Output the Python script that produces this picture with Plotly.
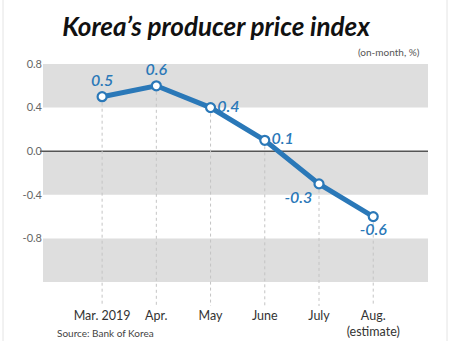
import plotly.graph_objects as go

# ---- data ----
months = ["Mar. 2019", "Apr.", "May", "June", "July", "Aug.<br>(estimate)"]
ppi = [0.5, 0.6, 0.4, 0.1, -0.3, -0.6]
y_ticks = [0.8, 0.4, 0.0, -0.4, -0.8]
y_tick_labels = ["0.8", "0.4", "0.0", "-0.4", "-0.8"]
label_pos = ["top center", "top center", "middle right", "middle right", "bottom left", "bottom center"]

BLUE = "#2a78b8"
Y_MIN, Y_MAX = -1.42, 0.8

fig = go.Figure()

# drop lines from each point down to the axis
dx, dy = [], []
for m, v in zip(months, ppi):
    dx += [m, m, None]
    dy += [v, Y_MIN, None]
fig.add_trace(go.Scatter(x=dx, y=dy, mode="lines",
                         line=dict(color="#c4c4c4", width=1, dash="dot"),
                         hoverinfo="skip", showlegend=False))

# main line
fig.add_trace(go.Scatter(
    x=months, y=ppi, mode="lines+markers+text",
    line=dict(color=BLUE, width=5),
    marker=dict(size=9, color="white", line=dict(color=BLUE, width=2.2)),
    text=[f"{v:.1f}" for v in ppi],
    textposition=label_pos,
    textfont=dict(family="Lato", size=16, color=BLUE, style="italic", weight=600),
    showlegend=False, cliponaxis=False,
))

shapes = []
for lo, hi in [(0.4, 0.8), (-0.4, 0.0), (-1.2, -0.8)]:
    shapes.append(dict(type="rect", xref="paper", yref="y", x0=0, x1=1, y0=lo, y1=hi,
                       fillcolor="#dedede", line=dict(width=0), layer="below"))
shapes.append(dict(type="line", xref="paper", yref="y", x0=-0.008, x1=1, y0=0, y1=0,
                   line=dict(color="#555555", width=1.5), layer="below"))
# frame lines
for xp in [3, 447]:
    shapes.append(dict(type="line", xref="paper", yref="paper",
                       x0=(xp - 43) / 385, x1=(xp - 43) / 385, y0=-0.2, y1=1.3,
                       line=dict(color="#e4e4e4", width=1)))

fig.update_layout(
    width=460, height=341,
    margin=dict(l=43, r=32, t=64, b=35, autoexpand=False),
    paper_bgcolor="white", plot_bgcolor="white",
    shapes=shapes,
    font=dict(family="Lato", color="#333333"),
    title=dict(text="<b><i>Korea’s producer price index</i></b>",
               font=dict(family="Lato", size=26, color="#111111"),
               x=216 / 460, xanchor="center", y=1 - 27 / 341, yanchor="middle"),
    annotations=[
        dict(text="(on-month, %)", xref="paper", yref="paper", x=1 - 6 / 385, y=1 + 12 / 242,
             xanchor="right", yanchor="middle", showarrow=False,
             font=dict(family="Lato", size=10, color="#555555")),
        dict(text="Source: Bank of Korea", xref="paper", yref="paper", x=12 / 385, y=-35 / 242,
             xanchor="left", yanchor="bottom", showarrow=False,
             font=dict(family="Lato", size=10, color="#444444")),
    ],
    xaxis=dict(type="category", range=[-1.09, 6.01], showgrid=False, zeroline=False,
               showline=False, ticks="", automargin=False,
               tickfont=dict(family="Lato", size=12.5, color="#333333")),
    yaxis=dict(range=[Y_MIN, Y_MAX], tickvals=y_ticks, ticktext=y_tick_labels,
               showgrid=False, zeroline=False, showline=False, ticks="", automargin=False,
               tickfont=dict(family="Lato", size=11, color="#666666")),
)

fig.write_html("out.html")
